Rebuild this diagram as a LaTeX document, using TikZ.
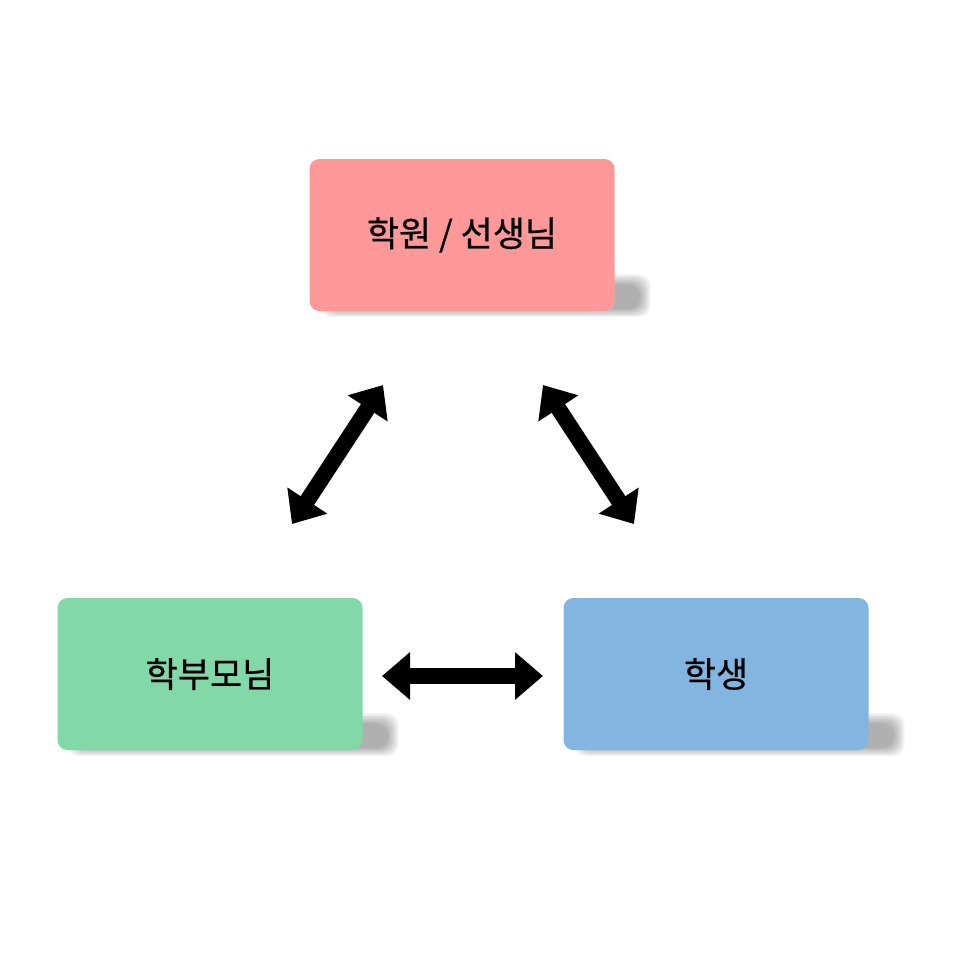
\documentclass[tikz,border=0pt]{standalone}
\usepackage{fontspec}
\newfontfamily\krfont[FakeBold=0.6]{Noto Sans CJK KR}
\usetikzlibrary{arrows.meta}
\definecolor{topred}{HTML}{FF9999}
\definecolor{leftgreen}{HTML}{82D8A6}
\definecolor{rightblue}{HTML}{82B6E0}
\tikzset{
  role/.style={rounded corners=10pt, minimum width=305pt, minimum height=152pt,
    font=\krfont\fontsize{35}{40}\selectfont, inner sep=0pt},
  link/.style={line width=16pt, {Triangle[length=28pt,width=46pt]}-{Triangle[length=28pt,width=46pt]}}
}
% soft flat shadow under a box
\newcommand{\flatshadow}[1]{%
  \foreach \k in {0,...,7}{
    \fill[black, opacity=0.045, rounded corners=12pt]
      ([xshift=10pt+1.5*\k pt, yshift=-6pt+1.2*\k pt]#1.south west)
      rectangle ([xshift=36pt-1.5*\k pt, yshift=37pt-1.5*\k pt]#1.south east);
  }}
\begin{document}
\begin{tikzpicture}[x=1pt,y=-1pt]
  \useasboundingbox[fill=white] (0,0) rectangle (966,966);
  \path (462,235) node[role, minimum height=152pt, minimum width=305pt] (academyref) {};
  \path (210,674) node[role] (parentref) {};
  \path (716,674) node[role] (studentref) {};
  \flatshadow{academyref}
  \flatshadow{parentref}
  \flatshadow{studentref}
  \node[role, fill=topred] (academy) at (462,235) {학원 / 선생님};
  \node[role, fill=leftgreen] (parent) at (210,674) {학부모님};
  \node[role, fill=rightblue] (student) at (716,674) {학생};

  \coordinate (a1) at (383,385);
  \coordinate (a2) at (292,524);
  \coordinate (b1) at (543,385);
  \coordinate (b2) at (634,524);
  \coordinate (c1) at (382,676);
  \coordinate (c2) at (543,676);

  \draw[link] (a1) -- (a2);
  \draw[link] (b1) -- (b2);
  \draw[link] (c1) -- (c2);
\end{tikzpicture}
\end{document}
